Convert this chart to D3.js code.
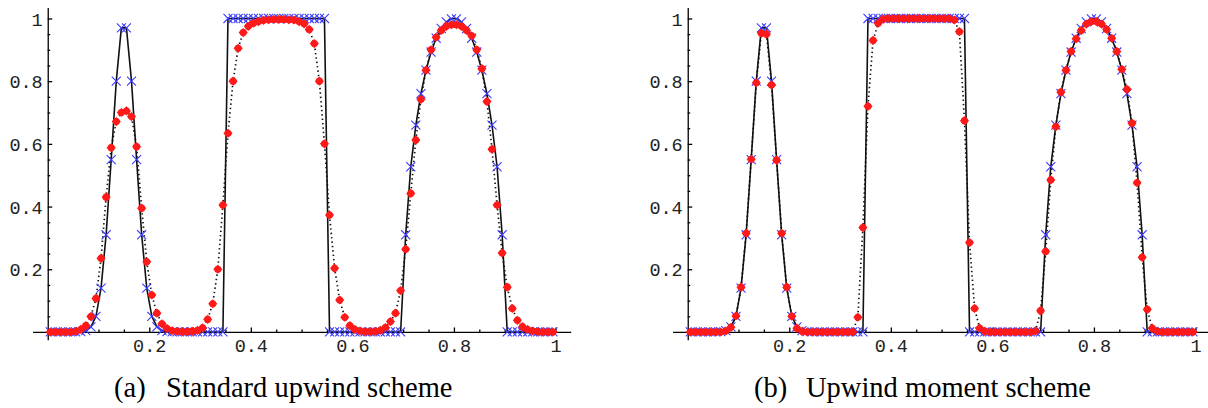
<!DOCTYPE html>
<html lang="en">
<head>
<meta charset="utf-8">
<title>Upwind schemes</title>
<script src="https://cdn.jsdelivr.net/npm/d3@7"></script>
<style>
  body { margin: 0; background: #fff; }
  svg { display: block; }
  .axis path, .axis line { stroke: #000; stroke-width: 1.3px; }
  .axis text { font-family: "Liberation Mono", monospace; font-size: 18.5px; fill: #222; }
  .exact { fill: none; stroke: #111; stroke-width: 1.6px; }
  .numeric { fill: none; stroke: #111; stroke-width: 1.7px; stroke-dasharray: 1.4 3; }
  .caption { font-family: "Liberation Serif", "Times New Roman", serif; font-size: 28.5px; fill: #000; }
</style>
</head>
<body>
<svg width="1208" height="408"></svg>
<script>

// cell centres of the 100-cell grid on [0,1]
var xCells = [
  0.005, 0.015, 0.025, 0.035, 0.045, 0.055, 0.065, 0.075, 0.085, 0.095,
  0.105, 0.115, 0.125, 0.135, 0.145, 0.155, 0.165, 0.175, 0.185, 0.195,
  0.205, 0.215, 0.225, 0.235, 0.245, 0.255, 0.265, 0.275, 0.285, 0.295,
  0.305, 0.315, 0.325, 0.335, 0.345, 0.355, 0.365, 0.375, 0.385, 0.395,
  0.405, 0.415, 0.425, 0.435, 0.445, 0.455, 0.465, 0.475, 0.485, 0.495,
  0.505, 0.515, 0.525, 0.535, 0.545, 0.555, 0.565, 0.575, 0.585, 0.595,
  0.605, 0.615, 0.625, 0.635, 0.645, 0.655, 0.665, 0.675, 0.685, 0.695,
  0.705, 0.715, 0.725, 0.735, 0.745, 0.755, 0.765, 0.775, 0.785, 0.795,
  0.805, 0.815, 0.825, 0.835, 0.845, 0.855, 0.865, 0.875, 0.885, 0.895,
  0.905, 0.915, 0.925, 0.935, 0.945, 0.955, 0.965, 0.975, 0.985, 0.995
];

// exact solution (solid line, blue crosses)
var exactU = [
  0, 0, 0, 0, 0, 0, 0.001, 0.004, 0.016, 0.05,
  0.14, 0.31, 0.55, 0.80, 0.97, 0.97, 0.80, 0.55, 0.31, 0.14,
  0.05, 0.016, 0.004, 0.001, 0, 0, 0, 0, 0, 0,
  0, 0, 0, 0, 0, 1, 1, 1, 1, 1,
  1, 1, 1, 1, 1, 1, 1, 1, 1, 1,
  1, 1, 1, 1, 1, 0, 0, 0, 0, 0,
  0, 0, 0, 0, 0, 0, 0, 0, 0, 0,
  0.31, 0.527, 0.66, 0.76, 0.835, 0.893, 0.937, 0.968, 0.989, 0.999,
  0.999, 0.989, 0.968, 0.937, 0.893, 0.835, 0.76, 0.66, 0.527, 0.31,
  0, 0, 0, 0, 0, 0, 0, 0, 0, 0
];

// (a) standard upwind scheme (red dots)
var upwindU = [
  0, 0, 0, 0, 0, 0.002, 0.008, 0.02, 0.049, 0.107,
  0.235, 0.43, 0.588, 0.671, 0.70, 0.705, 0.687, 0.591, 0.395, 0.224,
  0.118, 0.06, 0.026, 0.011, 0.004, 0.002, 0.001, 0.001, 0.002, 0.005,
  0.013, 0.04, 0.09, 0.2, 0.405, 0.634, 0.80, 0.905, 0.955, 0.975,
  0.985, 0.99, 0.994, 0.996, 0.997, 0.997, 0.997, 0.996, 0.995, 0.99,
  0.983, 0.965, 0.92, 0.80, 0.60, 0.373, 0.203, 0.102, 0.047, 0.02,
  0.008, 0.003, 0.001, 0.001, 0.002, 0.005, 0.014, 0.033, 0.06, 0.132,
  0.264, 0.442, 0.612, 0.742, 0.835, 0.90, 0.94, 0.962, 0.975, 0.98,
  0.98, 0.975, 0.962, 0.945, 0.90, 0.84, 0.735, 0.583, 0.405, 0.252,
  0.143, 0.075, 0.037, 0.017, 0.008, 0.003, 0.001, 0, 0, 0
];

// (b) upwind moment scheme (red dots)
var momentU = [
  0, 0, 0, 0, 0, 0, 0, 0.003, 0.015, 0.051,
  0.143, 0.315, 0.551, 0.795, 0.953, 0.95, 0.788, 0.548, 0.315, 0.143,
  0.05, 0.012, 0.002, 0, 0, 0, 0, 0, 0, 0,
  0, 0, 0, 0.047, 0.333, 0.72, 0.93, 0.985, 0.998, 1,
  1, 1, 1, 1, 1, 1, 1, 1, 1, 1,
  1, 1, 0.995, 0.958, 0.674, 0.285, 0.075, 0.012, 0.002, 0,
  0, 0, 0, 0, 0, 0, 0, 0, 0.003, 0.068,
  0.257, 0.485, 0.655, 0.765, 0.835, 0.895, 0.935, 0.962, 0.982, 0.99,
  0.99, 0.982, 0.965, 0.937, 0.895, 0.838, 0.774, 0.666, 0.476, 0.238,
  0.072, 0.012, 0.002, 0, 0, 0, 0, 0, 0, 0
];

var majorTicks = [0.2, 0.4, 0.6, 0.8, 1];
var majorLabels = ["0.2", "0.4", "0.6", "0.8", "1"];
var minorTicks = [0.05, 0.1, 0.15, 0.25, 0.3, 0.35, 0.45, 0.5, 0.55, 0.65, 0.7, 0.75, 0.85, 0.9, 0.95];

var panels = [
  {id: "a", left: 0, values: upwindU, tag: "(a)", title: "Standard upwind scheme"},
  {id: "b", left: 640, values: momentU, tag: "(b)", title: "Upwind moment scheme"}
];

var svg = d3.select("svg");

var diamond = d3.symbol().type(d3.symbolSquare).size(42);
var dot = d3.symbol().type(d3.symbolCircle).size(40);
var cross = d3.symbol().type(d3.symbolX).size(55);

panels.forEach(function(p) {
  var g = svg.append("g").attr("class", "panel panel-" + p.id);

  var x = d3.scaleLinear().domain([-0.03, 1.03]).range([p.left + 32.5, p.left + 570.7]);
  var y = d3.scaleLinear().domain([-0.025, 1.035]).range([339.8, 7.5]);

  var pts = xCells.map(function(c, i) { return {x: c, exact: exactU[i], num: p.values[i]}; });

  // axes cross at the origin
  var xAxisG = g.append("g").attr("class", "axis x-axis").attr("transform", "translate(0," + y(0) + ")");
  xAxisG.call(d3.axisBottom(x).tickValues(minorTicks).tickSize(-2.5).tickSizeOuter(0).tickFormat(""));
  xAxisG.append("g")
      .call(d3.axisBottom(x).tickValues(majorTicks).tickSize(-4.5).tickPadding(7)
        .tickFormat(function(d, i) { return majorLabels[i]; }))
      .select(".domain").remove();

  var yAxisG = g.append("g").attr("class", "axis y-axis").attr("transform", "translate(" + x(0) + ",0)");
  yAxisG.call(d3.axisLeft(y).tickValues(minorTicks).tickSize(-2.5).tickSizeOuter(0).tickFormat(""));
  yAxisG.append("g")
      .call(d3.axisLeft(y).tickValues(majorTicks).tickSize(-4.5).tickPadding(5)
        .tickFormat(function(d, i) { return majorLabels[i]; }))
      .select(".domain").remove();

  g.selectAll(".axis text").attr("dy", function() {
    return this.parentNode.parentNode.parentNode.classList.contains("y-axis") ? "0.36em" : "0.71em";
  });

  var exactLine = d3.line().x(function(d) { return x(d.x); }).y(function(d) { return y(d.exact); });
  var numLine = d3.line().x(function(d) { return x(d.x); }).y(function(d) { return y(d.num); });

  g.append("path").datum(pts).attr("class", "exact").attr("d", exactLine);
  g.append("path").datum(pts).attr("class", "numeric").attr("d", numLine);

  g.append("g").selectAll("path")
    .data(pts)
    .join("path")
      .attr("d", cross)
      .attr("transform", function(d) { return "translate(" + x(d.x) + "," + y(d.exact) + ")"; })
      .attr("fill", "none")
      .attr("stroke", "#3c3cff")
      .attr("stroke-width", 1.1);

  var red = g.append("g").selectAll("g")
    .data(pts)
    .join("g")
      .attr("transform", function(d) { return "translate(" + x(d.x) + "," + y(d.num) + ")"; })
      .attr("fill", "#ff1a1a");
  red.append("path").attr("d", dot);
  red.append("path").attr("d", diamond).attr("transform", "rotate(45)");

  // caption
  var cap = g.append("text").attr("class", "caption").attr("y", 397);
  cap.append("tspan").attr("x", p.left + 114).text(p.tag);
  cap.append("tspan").attr("x", p.left + 166).text(p.title);
});

</script>
</body>
</html>
